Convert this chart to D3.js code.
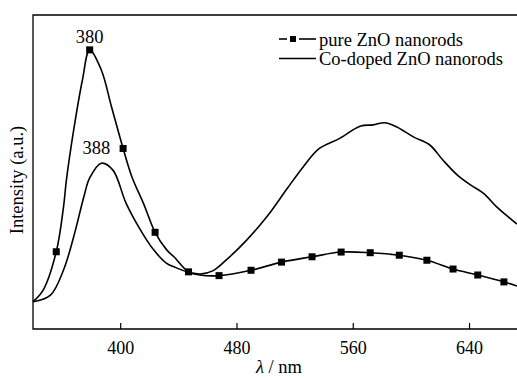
<!DOCTYPE html>
<html>
<head>
<meta charset="utf-8">
<script src="https://cdn.jsdelivr.net/npm/d3@7"></script>
<style>
  body { margin: 0; background: #fff; }
  svg { display: block; font-family: "Liberation Serif", "DejaVu Serif", serif; }
</style>
</head>
<body>
<div id="chart"></div>
<script>
// PL spectra, pure vs Co-doped ZnO nanorods

const coNm = [340, 352, 361, 368, 375, 379, 387, 395, 404, 414, 423, 432, 437, 446, 455, 464, 473, 487,
  501, 515, 526, 537, 551, 565, 574, 582, 590, 602, 613, 622, 632, 641, 650, 659, 668, 673];
const coVal = [8.7, 10.8, 18.8, 29.4, 42.1, 48.1, 52.8, 50.6, 40.1, 31.5, 25.2, 20.9, 19.8, 18.2, 17.5, 18.6,
  22.0, 28.3, 35.8, 44.8, 51.7, 57.5, 60.7, 64.6, 65.0, 65.7, 64.4, 61.1, 58.6, 53.8, 49.0, 45.9, 43.2,
  38.9, 35.3, 33.4];

const pureNm = [340, 347, 356, 361, 363, 368, 374, 379, 387, 394, 402, 408, 416, 424, 432, 437, 447, 455,
  468, 490, 511, 532, 552, 572, 592, 611, 629, 646, 664, 673];
const pureVal = [8.7, 12.4, 24.6, 38.9, 47.5, 63.4, 79.3, 88.9, 82.5, 70.8, 57.5, 48.5, 40.0, 30.8, 25.2,
  23.0, 18.2, 17.2, 17.0, 18.7, 21.3, 23.0, 24.5, 24.3, 23.5, 21.9, 19.1, 17.2, 15.0, 13.7];
const pureMarkerNm = [356, 379, 402, 424, 447, 468, 490, 511, 532, 552, 572, 592, 611, 629, 646, 664];

const xTicks = [400, 480, 560, 640];
const peakLabels = [
  {text: '380', nm: 379, series: 'pure'},
  {text: '388', nm: 387, series: 'co'},
];
const legendItems = ['pure ZnO nanorods', 'Co-doped ZnO nanorods'];

const W = 517, H = 378;
const plot = {left: 33, top: 15, right: 517, bottom: 329};
const fs = 18.5;

const svg = d3.select('#chart').append('svg')
  .attr('width', W).attr('height', H);

const x = d3.scaleLinear().domain([340, 673]).range([plot.left, plot.right]);
const y = d3.scaleLinear().domain([0, 100]).range([plot.bottom, plot.top]);

const co = coNm.map((nm, i) => ({nm, v: coVal[i]}));
const pure = pureNm.map((nm, i) => ({nm, v: pureVal[i]}));
const pureMarks = pure.filter(d => pureMarkerNm.includes(d.nm));

// frame: left, top, bottom (no right edge in the original)
const frame = svg.append('g').attr('stroke', '#000').attr('stroke-width', 1.3).attr('fill', 'none');
frame.append('path')
  .attr('d', `M${plot.right},${plot.top}H${plot.left}V${plot.bottom}H${plot.right}`);

// x axis: ticks pointing inward
const xAxis = d3.axisBottom(x).tickValues(xTicks).tickSizeInner(-6).tickSizeOuter(0).tickPadding(12);
const gx = svg.append('g')
  .attr('transform', `translate(0,${plot.bottom})`)
  .call(xAxis);
gx.select('.domain').remove();
gx.selectAll('.tick line').attr('stroke', '#000').attr('stroke-width', 1.2);
gx.selectAll('.tick text')
  .attr('font-family', '"Liberation Serif", serif')
  .attr('font-size', 18).attr('fill', '#000');

const line = d3.line()
  .x(d => x(d.nm))
  .y(d => y(d.v))
  .curve(d3.curveCatmullRom.alpha(0.5));

svg.append('path').datum(co)
  .attr('d', line)
  .attr('fill', 'none').attr('stroke', '#000').attr('stroke-width', 1.6);

svg.append('path').datum(pure)
  .attr('d', line)
  .attr('fill', 'none').attr('stroke', '#000').attr('stroke-width', 1.6);

const ms = 7;
svg.append('g').selectAll('rect').data(pureMarks).join('rect')
  .attr('x', d => x(d.nm) - ms / 2)
  .attr('y', d => y(d.v) - ms / 2)
  .attr('width', ms).attr('height', ms)
  .attr('fill', '#000');

// peak annotations
const seriesByName = {pure, co};
svg.append('g').selectAll('text').data(peakLabels).join('text')
  .attr('x', d => x(d.nm) + (d.series === 'co' ? -5 : 0))
  .attr('y', d => {
    const p = seriesByName[d.series].find(e => e.nm === d.nm);
    return y(p.v) - (d.series === 'co' ? 9 : 7);
  })
  .attr('text-anchor', 'middle')
  .attr('font-size', fs)
  .text(d => d.text);

// legend
const lg = svg.append('g').attr('transform', 'translate(279,0)');
lg.append('line').attr('x1', 0).attr('x2', 8).attr('y1', 39).attr('y2', 39)
  .attr('stroke', '#000').attr('stroke-width', 1.6);
lg.append('line').attr('x1', 20).attr('x2', 37).attr('y1', 39).attr('y2', 39)
  .attr('stroke', '#000').attr('stroke-width', 1.6);
lg.append('rect').attr('x', 11).attr('y', 36).attr('width', 6).attr('height', 6).attr('fill', '#000');
lg.append('line').attr('x1', 0).attr('x2', 37).attr('y1', 58.5).attr('y2', 58.5)
  .attr('stroke', '#000').attr('stroke-width', 1.6);
lg.selectAll('text').data(legendItems).join('text')
  .attr('x', 40)
  .attr('y', (d, i) => 45.5 + i * 19.5)
  .attr('font-size', fs)
  .text(d => d);

// axis titles
svg.append('text')
  .attr('transform', `translate(23,180) rotate(-90)`)
  .attr('text-anchor', 'middle')
  .attr('font-size', fs)
  .text('Intensity (a.u.)');

const xt = svg.append('text')
  .attr('x', 279).attr('y', 373)
  .attr('text-anchor', 'middle')
  .attr('font-size', fs);
xt.append('tspan').attr('font-style', 'italic').text('λ');
xt.append('tspan').text(' / nm');
</script>
</body>
</html>
